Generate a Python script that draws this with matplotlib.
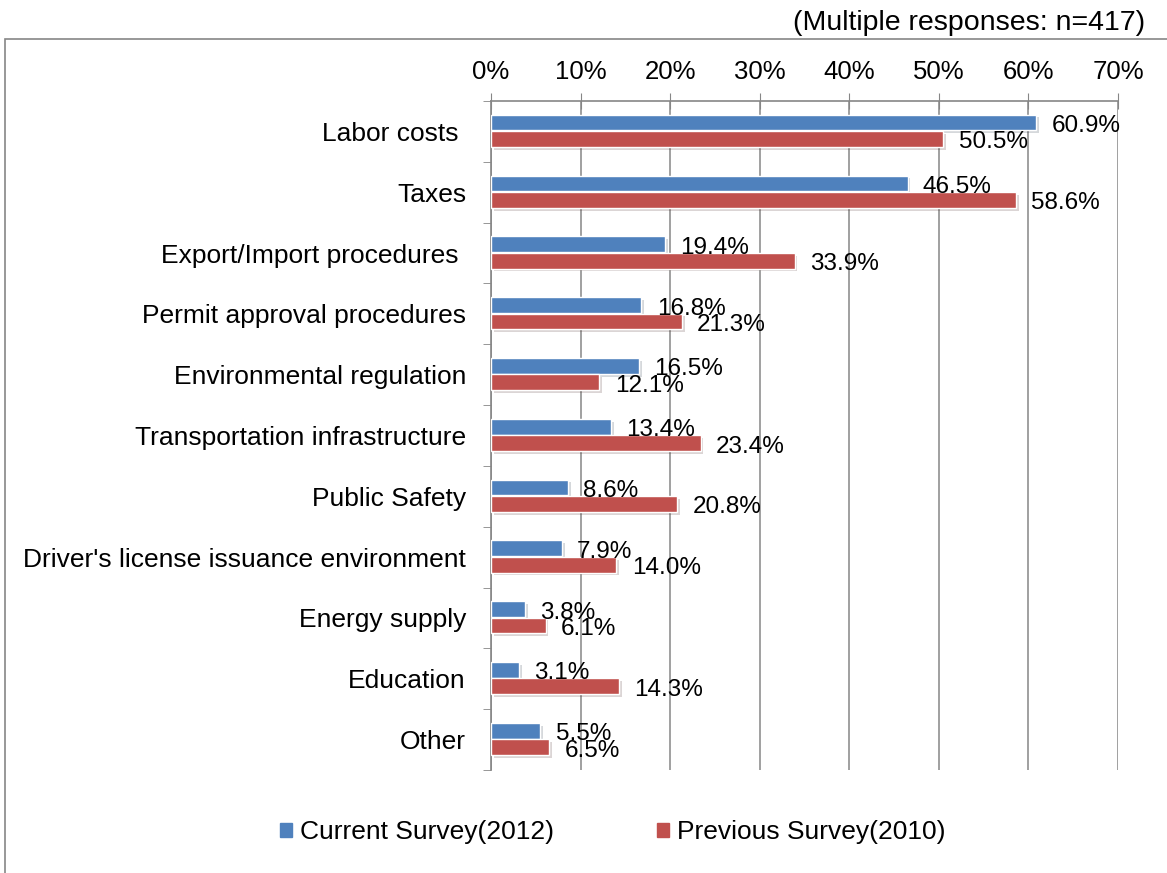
import numpy as np
import matplotlib
matplotlib.use('Agg')
import matplotlib.pyplot as plt
from matplotlib import patheffects
from matplotlib.patches import Rectangle

plt.rcParams['font.family'] = ['Liberation Sans', 'DejaVu Sans']

# survey data (share of respondents, %)
categorias = ['Labor costs ', 'Taxes', 'Export/Import procedures ', 'Permit approval procedures',
              'Environmental regulation', 'Transportation infrastructure', 'Public Safety',
              "Driver's license issuance environment", 'Energy supply', 'Education', 'Other']
atual_2012 = [60.9, 46.5, 19.4, 16.8, 16.5, 13.4, 8.6, 7.9, 3.8, 3.1, 5.5]
anterior_2010 = [50.5, 58.6, 33.9, 21.3, 12.1, 23.4, 20.8, 14.0, 6.1, 14.3, 6.5]
rotulos_x = ['0%', '10%', '20%', '30%', '40%', '50%', '60%', '70%']
legenda = ['Current Survey(2012)', 'Previous Survey(2010)']

azul = '#4F81BD'
vermelho = '#C0504D'
cinza = '#868686'

fig = plt.figure(figsize=(11.67, 8.73), dpi=100)

# moldura externa do grafico
fig.patches.append(Rectangle((5 / 1167, -0.01), 1.0, 1 - 39 / 873 + 0.01, transform=fig.transFigure,
                             fill=False, edgecolor=cinza, linewidth=1.2))
fig.text(1145 / 1167, 1 - 23 / 873, '(Multiple responses: n=417)', ha='right', va='center', fontsize=20.5)

ax = fig.add_axes([491 / 1167, 1 - 770 / 873, 627 / 1167, 669 / 873])

y = np.arange(len(categorias))
h = 0.26
sombra = [patheffects.withSimplePatchShadow(offset=(2, -2), alpha=0.18)]
b1 = ax.barh(y - 0.145, atual_2012, height=h, color=azul, edgecolor='white', linewidth=1, zorder=3)
b2 = ax.barh(y + 0.125, anterior_2010, height=h, color=vermelho, edgecolor='white', linewidth=1, zorder=3)
for b in list(b1) + list(b2):
    b.set_path_effects(sombra)

# rotulos de valor ao lado de cada barra
for yi, v in zip(y, atual_2012):
    ax.annotate('%.1f%%' % v, (v, yi - 0.145), xytext=(11, -2.5), textcoords='offset points',
                ha='left', va='center', fontsize=17.5, zorder=4)
for yi, v in zip(y, anterior_2010):
    ax.annotate('%.1f%%' % v, (v, yi + 0.125), xytext=(11, -2.5), textcoords='offset points',
                ha='left', va='center', fontsize=17.5, zorder=4)

ax.set_xlim(0, 70)
ax.set_ylim(len(categorias) - 0.5, -0.5)

ax.xaxis.tick_top()
ax.set_xticks(np.arange(0, 71, 10))
ax.set_xticklabels(rotulos_x, fontsize=18.5)
ax.tick_params(axis='x', direction='inout', length=12, color=cinza, pad=6)
ax.grid(axis='x', color=cinza, linewidth=1.1, zorder=0)

ax.set_yticks(y)
ax.set_yticklabels(categorias, fontsize=19)
ax.set_yticks(np.arange(-0.5, len(categorias), 1), minor=True)
ax.tick_params(axis='y', which='major', length=0, pad=18)
ax.tick_params(axis='y', which='minor', direction='out', length=6, color=cinza)

for s in ['right', 'bottom']:
    ax.spines[s].set_visible(False)
for s in ['top', 'left']:
    ax.spines[s].set_color(cinza)
    ax.spines[s].set_linewidth(1.2)

# legenda com quadrados simples, sem sombra
alcas = [Rectangle((0, 0), 1, 1, color=azul), Rectangle((0, 0), 1, 1, color=vermelho)]
leg = fig.legend(alcas, legenda, loc='center', bbox_to_anchor=(613 / 1167, 1 - 832 / 873), ncol=2,
                 frameon=False, fontsize=19, handlelength=0.45, handleheight=0.45, handletextpad=0.3,
                 columnspacing=3.9)

fig.savefig('out.png', dpi=100)
